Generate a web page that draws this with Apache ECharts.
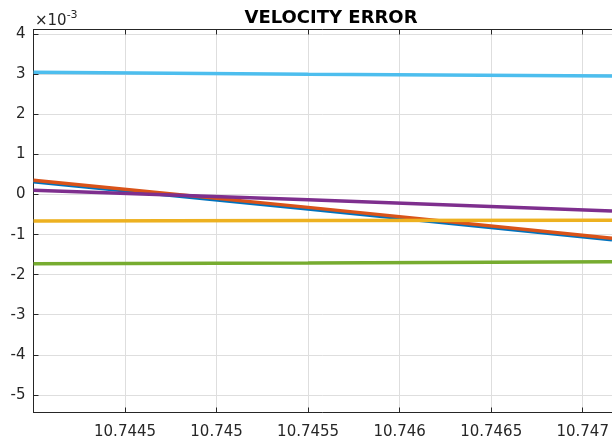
<!DOCTYPE html>
<html>
<head>
<meta charset="utf-8">
<script src="https://cdn.jsdelivr.net/npm/echarts@6/dist/echarts.min.js"></script>
<style>
  html, body { margin: 0; padding: 0; background: #fff; }
  #chart { width: 612px; height: 442px; }
</style>
</head>
<body>
<div id="chart"></div>
<script>
// sample times and the velocity error of each trace (values in units of 1e-3)
var timeVals   = [10.744, 10.7455, 10.74716];
var errBlue    = [0.32, -0.36, -1.13];
var errOrange  = [0.36, -0.32, -1.09];
var errYellow  = [-0.66, -0.65, -0.64];
var errPurple  = [0.11, -0.13, -0.41];
var errGreen   = [-1.73, -1.71, -1.68];
var errCyan    = [3.05, 3.00, 2.96];

var xTicks = [10.7445, 10.745, 10.7455, 10.746, 10.7465, 10.747];
var yTicks = [-5, -4, -3, -2, -1, 0, 1, 2, 3, 4];

var traces = [errBlue, errOrange, errYellow, errPurple, errGreen, errCyan];
var colors = ['#0072BD', '#D95319', '#EDB120', '#7E2F8E', '#77AC30', '#4DBEEE'];

var axisColor = '#262626';
var gridColor = '#dedede';
var font = 'DejaVu Sans';

function pairs(ys) {
  return timeVals.map(function (t, i) { return [t, ys[i]]; });
}

var chart = echarts.init(document.getElementById('chart'));

var option = {
  animation: false,
  backgroundColor: '#fff',
  title: {
    text: 'VELOCITY ERROR',
    left: 326,
    top: 4,
    textAlign: 'center',
    textStyle: { fontFamily: font, fontWeight: 'bold', fontSize: 18, color: '#000' }
  },
  graphic: [{
    type: 'text',
    left: 35,
    top: 10,
    style: {
      text: '{a|\u00d710}{b|-3}',
      rich: {
        a: { fontFamily: font, fontSize: 15, fill: axisColor, padding: [4, 0, 0, 0] },
        b: { fontFamily: font, fontSize: 11, fill: axisColor, verticalAlign: 'top' }
      }
    }
  }],
  grid: { left: 33.5, right: 0, top: 29.5, bottom: 29.5, containLabel: false },
  xAxis: [{
    type: 'value',
    min: 10.744,
    max: 10.74716,
    axisLine: { show: true, onZero: false, lineStyle: { color: axisColor, width: 1 } },
    axisTick: { show: true, inside: true, length: 5, customValues: xTicks, lineStyle: { color: axisColor } },
    axisLabel: {
      customValues: xTicks,
      margin: 12,
      fontFamily: font, fontSize: 15, color: axisColor,
      formatter: function (v) { return String(v); }
    },
    splitLine: { show: true, lineStyle: { color: gridColor, width: 1 } }
  }, {
    type: 'value',
    position: 'top',
    min: 10.744,
    max: 10.74716,
    axisLine: { show: true, onZero: false, lineStyle: { color: axisColor, width: 1 } },
    axisTick: { show: true, inside: true, length: 5, customValues: xTicks, lineStyle: { color: axisColor } },
    axisLabel: { show: false },
    splitLine: { show: false }
  }],
  yAxis: {
    type: 'value',
    min: -5.44,
    max: 4.12,
    axisLine: { show: true, onZero: false, lineStyle: { color: axisColor, width: 1 } },
    axisTick: { show: true, inside: true, length: 5, customValues: yTicks, lineStyle: { color: axisColor } },
    axisLabel: {
      customValues: yTicks,
      margin: 8,
      fontFamily: font, fontSize: 15, color: axisColor,
      formatter: function (v) { return String(v); }
    },
    splitLine: { show: true, lineStyle: { color: gridColor, width: 1 } }
  },
  series: traces.map(function (ys, i) {
    return {
      type: 'line',
      xAxisIndex: 0,
      data: pairs(ys),
      showSymbol: false,
      symbol: 'none',
      clip: true,
      z: 2 + i,
      lineStyle: { color: colors[i], width: 3.5 }
    };
  })
};

chart.setOption(option);
</script>
</body>
</html>
